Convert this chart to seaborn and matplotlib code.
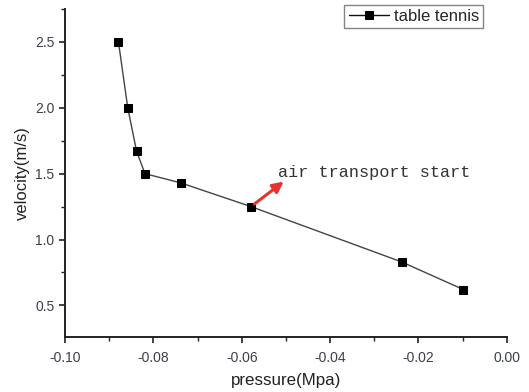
import matplotlib
matplotlib.use("Agg")
import matplotlib.pyplot as plt
import seaborn as sns
import pandas as pd
from matplotlib.ticker import MultipleLocator

pressure = [-0.0879, -0.0858, -0.0838, -0.0819, -0.0738, -0.0579, -0.0238, -0.0098]
velocity = [2.50, 2.00, 1.67, 1.50, 1.43, 1.25, 0.83, 0.62]
series_name = "table tennis"
annotation_text = "air transport start"
annotation_xy = (-0.0505, 1.44)
x_ticks = [-0.10, -0.08, -0.06, -0.04, -0.02, 0.00]
y_ticks = [0.5, 1.0, 1.5, 2.0, 2.5]

sns.set_style("ticks")
plt.rcParams['font.family'] = ['Liberation Sans', 'DejaVu Sans']

df = pd.DataFrame({"pressure": pressure, "velocity": velocity, "series": series_name})

fig = plt.figure(figsize=(5.29, 3.92), dpi=100)
ax = fig.add_axes([0.1229, 0.1403, 0.958 - 0.1229, 0.977 - 0.1403])

sns.lineplot(data=df, x="pressure", y="velocity", hue="series", palette=["#444444"],
             marker="s", markersize=6, markerfacecolor="black", markeredgecolor="black",
             linewidth=1.0, ax=ax, sort=False)

ax.set_xlim(-0.10, 0.0)
ax.set_ylim(0.26, 2.75)
ax.set_xticks(x_ticks)
ax.set_xticklabels([f"{v:.2f}" for v in x_ticks])
ax.set_yticks(y_ticks)
ax.set_yticklabels([f"{v:.1f}" for v in y_ticks])
ax.xaxis.set_minor_locator(MultipleLocator(0.01))
ax.yaxis.set_minor_locator(MultipleLocator(0.25))
ax.tick_params(axis="x", which="major", pad=6)
ax.tick_params(axis="both", which="major", direction="out", length=4, width=1.2,
               labelsize=10, labelcolor="#3a3f4a", color="#222222")
ax.tick_params(axis="both", which="minor", direction="out", length=3, width=1.0, color="#222222")

for s in ["top", "right"]:
    ax.spines[s].set_visible(False)
for s in ["left", "bottom"]:
    ax.spines[s].set_linewidth(1.4)
    ax.spines[s].set_color("#222222")

ax.set_xlabel("pressure(Mpa)", fontsize=12.2, color="#222222", labelpad=6)
ax.set_ylabel("velocity(m/s)", fontsize=12, color="#222222", labelpad=4)

leg = ax.legend(loc="upper right", bbox_to_anchor=(483 / 529, 1 - 5 / 392),
                bbox_transform=fig.transFigure, frameon=True, fancybox=False,
                fontsize=12, handlelength=2.4, borderpad=0.25, handletextpad=0.3,
                borderaxespad=0)
leg.get_frame().set_edgecolor("#666666")
leg.get_frame().set_linewidth(1.0)
for h in leg.get_lines():
    h.set_color("#111111")

ax.annotate("", xy=annotation_xy, xycoords="data",
            xytext=(pressure[5], velocity[5]), textcoords="data",
            arrowprops=dict(arrowstyle="-|>", color="#e8322e", lw=2.2, mutation_scale=16,
                            shrinkA=3, shrinkB=0))
ax.text(-0.0517, 1.475, annotation_text, fontsize=12.2,
        family=["Liberation Mono", "DejaVu Sans Mono"], color="#333333",
        va="baseline", ha="left")

fig.savefig("out.png", dpi=100)
